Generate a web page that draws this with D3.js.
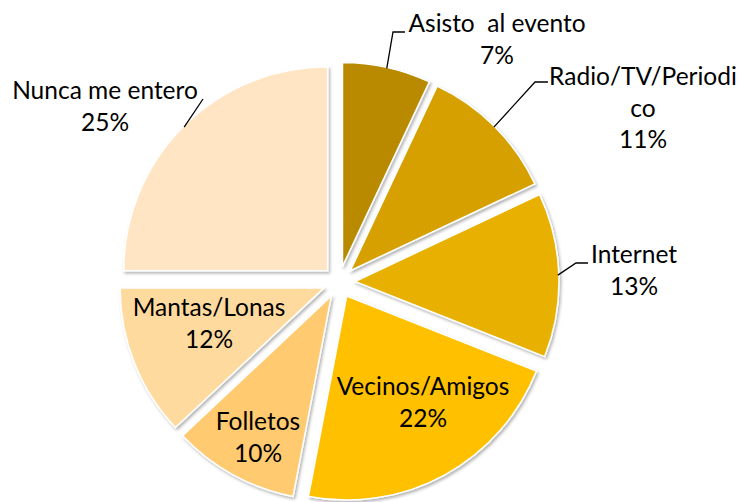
<!DOCTYPE html>
<html>
<head>
<meta charset="utf-8">
<script src="https://cdn.jsdelivr.net/npm/d3@7"></script>
<style>
  body { margin: 0; background: #fff; }
  svg text { font-family: Lato, "Open Sans", sans-serif; fill: #000; white-space: pre; }
</style>
</head>
<body>
<div id="chart"></div>
<script>
// Medio por el que se entero del evento (porcentajes)
const categories = ['Asisto  al evento', 'Radio/TV/Periodico', 'Internet', 'Vecinos/Amigos', 'Folletos', 'Mantas/Lonas', 'Nunca me entero']
const values = [7, 11, 13, 22, 10, 12, 25]
const colors = ['#B98A00', '#D5A000', '#E8B000', '#FFC000', '#FFCA70', '#FFDA9E', '#FFE5C4']
// how the labels wrap in the original
const labelLines = [
  ['Asisto  al evento', '7%'],
  ['Radio/TV/Periodi', 'co', '11%'],
  ['Internet', '13%'],
  ['Vecinos/Amigos', '22%'],
  ['Folletos', '10%'],
  ['Mantas/Lonas', '12%'],
  ['Nunca me entero', '25%']
]

const width = 738
const height = 502
const cx = 339, cy = 282
const radius = 204
const explode = 16
const lineHeight = 31.5

// label layout: text centre x, first baseline y, optional leader elbow
const labelLayout = [
  { x: 497, y: 32, elbow: [393, 32], end: 405 },
  { x: 643, y: 85, elbow: [535, 82], end: 548 },
  { x: 634, y: 263, elbow: [576, 263], end: 588 },
  { x: 423, y: 395 },
  { x: 258, y: 430 },
  { x: 209, y: 316 },
  { x: 105, y: 99, elbow: [203, 99], end: 203 }
]

const data = categories.map((c, i) => ({ name: c, value: values[i], color: colors[i] }))

const svg = d3.select('#chart')
  .append('svg')
  .attr('width', width)
  .attr('height', height)

const defs = svg.append('defs')
defs.append('filter')
  .attr('id', 'shadow')
  .attr('x', '-10%').attr('y', '-10%')
  .attr('width', '120%').attr('height', '120%')
  .append('feDropShadow')
  .attr('dx', 1.5)
  .attr('dy', 2)
  .attr('stdDeviation', 1.5)
  .attr('flood-color', '#000')
  .attr('flood-opacity', 0.3)

const pie = d3.pie()
  .sort(null)
  .value(d => d.value)
  .startAngle(0)
  .endAngle(2 * Math.PI)

const arc = d3.arc()
  .innerRadius(0)
  .outerRadius(radius)

const arcs = pie(data)
const mid = d => (d.startAngle + d.endAngle) / 2
const offset = d => [explode * Math.sin(mid(d)), -explode * Math.cos(mid(d))]

const g = svg.append('g')
  .attr('transform', `translate(${cx},${cy})`)

g.selectAll('path.slice')
  .data(arcs)
  .join('path')
  .attr('class', 'slice')
  .attr('transform', d => `translate(${offset(d)})`)
  .attr('d', arc)
  .attr('fill', d => d.data.color)
  .attr('stroke', '#fff')
  .attr('stroke-width', 1.5)
  .attr('filter', 'url(#shadow)')

// leader lines
arcs.forEach((d, i) => {
  const lay = labelLayout[i]
  if (!lay.elbow) return
  const [ox, oy] = offset(d)
  const a = mid(d)
  const sx = cx + ox + (radius - 1) * Math.sin(a)
  const sy = cy + oy - (radius - 1) * Math.cos(a)
  const pts = [[sx, sy], lay.elbow, [lay.end, lay.elbow[1]]]
  svg.append('path')
    .attr('d', d3.line()(pts))
    .attr('fill', 'none')
    .attr('stroke', '#000')
    .attr('stroke-width', 1.3)
})

// labels
labelLines.forEach((lines, i) => {
  const lay = labelLayout[i]
  const t = svg.append('text')
    .attr('text-anchor', 'middle')
    .attr('font-size', 24.5)
  lines.forEach((ln, j) => {
    t.append('tspan')
      .attr('x', lay.x)
      .attr('y', lay.y + j * lineHeight)
      .text(ln)
  })
})
</script>
</body>
</html>
